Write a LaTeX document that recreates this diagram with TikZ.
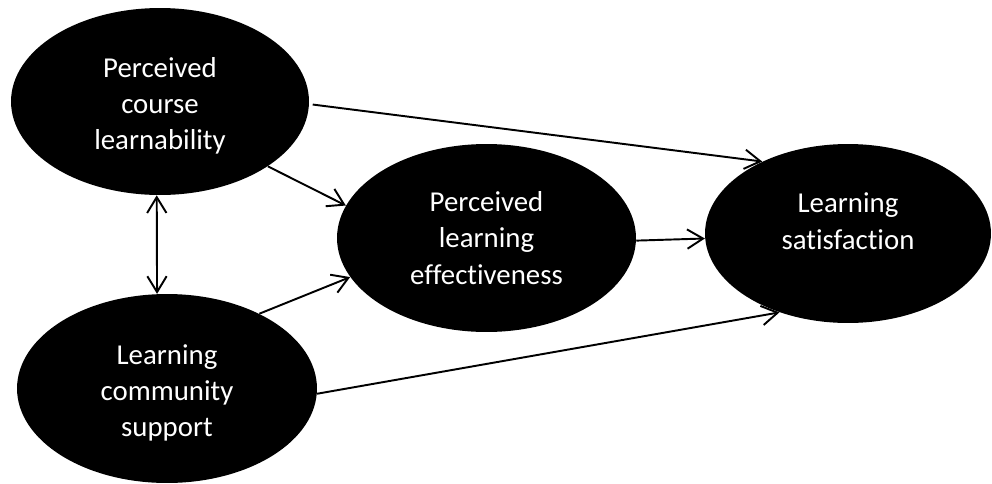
\documentclass[tikz,border=0pt]{standalone}
\usepackage{fontspec}
\setmainfont{Carlito}[Ligatures=NoCommon]
\usetikzlibrary{shapes.geometric,arrows.meta}

\begin{document}
\begin{tikzpicture}[x=0.02cm,y=-0.02cm,
  >={Straight Barb[length=9pt,width=11pt]},
  latent/.style={ellipse, fill=black, text=white, align=center, inner sep=0pt,
    font=\fontsize{16.4}{20.6}\selectfont},
  path/.style={line width=1.1pt, ->}]
\useasboundingbox (0,0) rectangle (992,484);

\node[latent, minimum width=5.96cm, minimum height=3.74cm] (pcl) at (160,101.5) {\rule{0pt}{16pt}Perceived\\course\\learnability};
\node[latent, minimum width=5.98cm, minimum height=3.76cm] (ple) at (486.5,238) {Perceived\\learning\\effectiveness};
\node[latent, minimum width=5.72cm, minimum height=3.58cm] (ls) at (848,233.5) {Learning\\satisfaction\\[-6.5pt]\mbox{}};
\node[latent, minimum width=6cm, minimum height=3.78cm] (lcs) at (167,388.5) {\rule{0pt}{16pt}Learning\\community\\support};

\draw[path, shorten <=2pt] (pcl.-1) -- (ls.140);
\draw[path] (pcl.-31) -- (ple.167);
\draw[path] (lcs.39) -- (ple.-164);
\draw[path] (ple.-1) -- (ls.182);
\draw[path] (lcs.-2) -- (ls.229);
\draw[path, <->] (pcl.-92) -- (lcs.96);

\end{tikzpicture}
\end{document}
